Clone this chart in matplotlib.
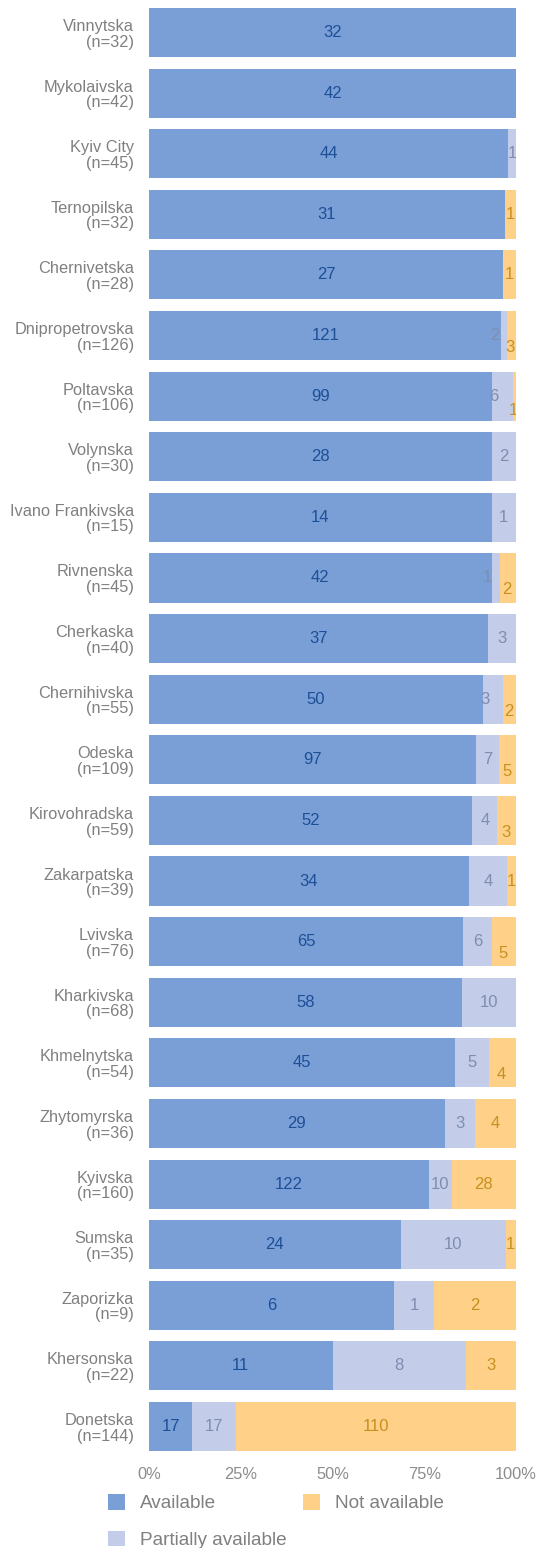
import matplotlib.pyplot as plt
import numpy as np

plt.rcParams['font.family'] = ['Liberation Sans', 'DejaVu Sans']

regions = ['Vinnytska', 'Mykolaivska', 'Kyiv City', 'Ternopilska', 'Chernivetska',
           'Dnipropetrovska', 'Poltavska', 'Volynska', 'Ivano Frankivska', 'Rivnenska',
           'Cherkaska', 'Chernihivska', 'Odeska', 'Kirovohradska', 'Zakarpatska',
           'Lvivska', 'Kharkivska', 'Khmelnytska', 'Zhytomyrska', 'Kyivska',
           'Sumska', 'Zaporizka', 'Khersonska', 'Donetska']
available = [32, 42, 44, 31, 27, 121, 99, 28, 14, 42, 37, 50, 97, 52, 34, 65, 58, 45, 29, 122, 24, 6, 11, 17]
partial = [0, 0, 1, 0, 0, 2, 6, 2, 1, 1, 3, 3, 7, 4, 4, 6, 10, 5, 3, 10, 10, 1, 8, 17]
not_avail = [0, 0, 0, 1, 1, 3, 1, 0, 0, 2, 0, 2, 5, 3, 1, 5, 0, 4, 4, 28, 1, 2, 3, 110]
ticks = [0, 25, 50, 75, 100]
ticklabels = ['0%', '25%', '50%', '75%', '100%']

# label nudges (pixels) where the original chart moved overlapping labels
nudge = {
    ('Dnipropetrovska', 1): (-10, 0), ('Dnipropetrovska', 2): (-2, -12),
    ('Poltavska', 1): (-8, 0), ('Poltavska', 2): (-1, -14),
    ('Rivnenska', 1): (-8, 0), ('Rivnenska', 2): (-1, -12),
    ('Chernihivska', 1): (-8, 0), ('Chernihivska', 2): (-1, -12),
    ('Odeska', 2): (-1, -12), ('Kirovohradska', 2): (-1, -12),
    ('Lvivska', 2): (-1, -12), ('Khmelnytska', 2): (-1, -12),
}

colors = ['#7a9fd6', '#c3cde9', '#fed088']
text_colors = ['#1d4f97', '#7e8db0', '#c8901f']
names = ['Available', 'Partially available', 'Not available']

fig = plt.figure(figsize=(5.39, 15.48), dpi=100)
ax = fig.add_axes([149 / 539, 1 - 1456.8 / 1548, 367 / 539, 1454.6 / 1548])

totals = np.array(available) + np.array(partial) + np.array(not_avail)
series = [np.array(available), np.array(partial), np.array(not_avail)]
y = np.arange(len(regions))
left = np.zeros(len(regions))
bars = []
for k, vals in enumerate(series):
    pct = vals / totals * 100
    b = ax.barh(y, pct, left=left, height=0.81, color=colors[k], label=names[k], linewidth=0)
    bars.append(b)
    for i, v in enumerate(vals):
        if v == 0:
            continue
        dx, dy = nudge.get((regions[i], k), (0, 0))
        ax.annotate(str(v), (left[i] + pct[i] / 2, y[i]), xytext=(dx, dy),
                    textcoords='offset pixels', ha='center', va='center',
                    fontsize=12, color=text_colors[k], annotation_clip=False, clip_on=True)
    left += pct

ax.set_xlim(0, 100)
ax.set_ylim(len(regions) - 0.5, -0.5)
ax.set_yticks(y)
ax.set_yticklabels([f'{r}\n(n={t})' for r, t in zip(regions, totals)],
                   fontsize=11.8, color='#808080', linespacing=1.05)
ax.set_xticks(ticks)
ax.set_xticklabels(ticklabels, fontsize=11.8, color='#8c8c8c')
ax.tick_params(axis='y', length=0, pad=11)
ax.tick_params(axis='x', length=0, pad=7)
for s in ax.spines.values():
    s.set_visible(False)

fig.legend(handles=bars, labels=names, ncol=2, loc='upper left',
           bbox_to_anchor=(108 / 539, 1 - 1494 / 1548), frameon=False,
           fontsize=13.7, labelcolor='#808080', handlelength=0.9, handleheight=0.9,
           handletextpad=0.78, columnspacing=0.85, labelspacing=0.95,
           borderpad=0, borderaxespad=0)

fig.savefig('out.png', dpi=100)
